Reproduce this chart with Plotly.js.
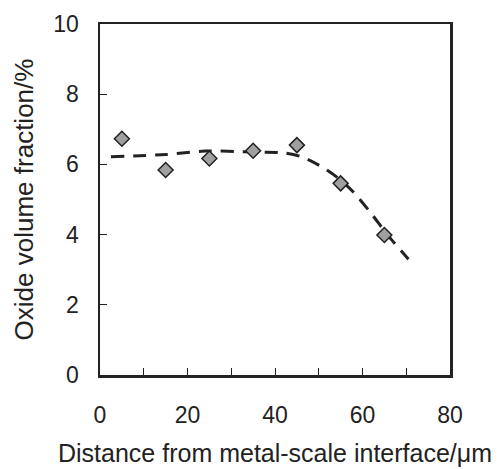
<!DOCTYPE html>
<html>
<head>
<meta charset="utf-8">
<script src="https://cdn.plot.ly/plotly-3.0.1.min.js"></script>
<style>html,body{margin:0;padding:0;background:#fff;}#chart{width:501px;height:469px;}</style>
</head>
<body>
<div id="chart"></div>
<script>
// Measured points
const distance = [5, 15, 25, 35, 45, 55, 65];
const oxideFraction = [6.73, 5.84, 6.17, 6.39, 6.55, 5.46, 3.99];
// Dashed trend curve
const trendX = [2.5, 15, 24, 35, 42, 46, 50, 54, 58, 62, 66, 70.5];
const trendY = [6.22, 6.28, 6.38, 6.35, 6.33, 6.22, 5.98, 5.65, 5.2, 4.6, 3.95, 3.3];
const xTickVals = [0, 20, 40, 60, 80];
const xTickText = ['0', '20', '40', '60', '80'];
const yTickVals = [0, 2, 4, 6, 8, 10];
const yTickText = ['0', '2', '4', '6', '8', '10'];

const font = 'Liberation Sans, Arial, sans-serif';
const traces = [
  {x: trendX, y: trendY, mode: 'lines', type: 'scatter',
   line: {color: '#222', width: 3, dash: '13px,9px', shape: 'spline', smoothing: 0.8},
   hoverinfo: 'skip'},
  {x: distance, y: oxideFraction, mode: 'markers', type: 'scatter',
   marker: {symbol: 'diamond', size: 11.5, color: '#a0a0a0', line: {color: '#222', width: 1.5}}}
];
const axisCommon = {
  showgrid: false, zeroline: false, showline: true, mirror: true,
  linecolor: '#222', linewidth: 2.5,
  ticks: 'inside', ticklen: 7, tickwidth: 1, tickcolor: '#222',
  tickfont: {family: font, size: 23, color: '#222'},
  tickmode: 'array'
};
const layout = {
  width: 501, height: 469,
  margin: {l: 100, r: 51, t: 24, b: 94},
  paper_bgcolor: '#fff', plot_bgcolor: '#fff',
  showlegend: false,
  xaxis: Object.assign({}, axisCommon, {
    range: [0, 80], tickvals: xTickVals, ticktext: xTickText,
    ticklabelstandoff: 18,
    minor: {tickmode: 'linear', tick0: 0, dtick: 10, ticks: 'inside', ticklen: 7, tickwidth: 1, tickcolor: '#222'},
    title: {text: 'Distance from metal-scale interface/μm', font: {family: font, size: 25, color: '#222'}, standoff: 18}
  }),
  yaxis: Object.assign({}, axisCommon, {
    range: [0, 10], tickvals: yTickVals, ticktext: yTickText,
    ticklabelstandoff: 14,
    title: {text: 'Oxide volume fraction/%', font: {family: font, size: 26, color: '#222'}, standoff: 12}
  })
};
Plotly.newPlot('chart', traces, layout, {displayModeBar: false, staticPlot: true});
</script>
</body>
</html>
